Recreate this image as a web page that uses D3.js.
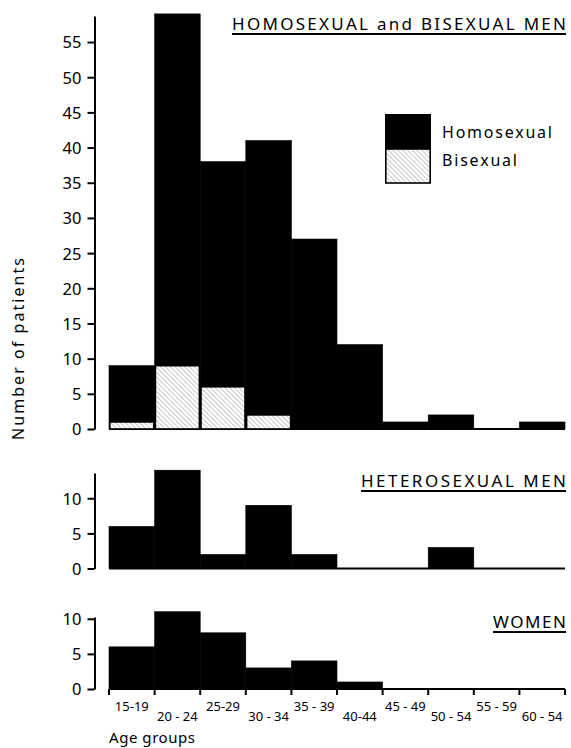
<!DOCTYPE html>
<html>
<head>
<meta charset="utf-8">
<script src="https://cdn.jsdelivr.net/npm/d3@7"></script>
<style>
  body { margin: 0; background: #fff; }
  text { font-family: 'Noto Sans', 'DejaVu Sans', sans-serif; fill: #000; }
</style>
</head>
<body>
<div id="chart"></div>
<script>
// data
const ageGroups = ['15-19', '20-24', '25-29', '30-34', '35-39', '40-44', '45-49', '50-54', '55-59', '60-64'];
const ageLabels = ['15-19', '20 - 24', '25-29', '30 - 34', '35 - 39', '40-44', '45 - 49', '50 - 54', '55 - 59', '60 - 54'];
const homosexual = [8, 50, 32, 39, 27, 12, 1, 2, 0, 1];
const bisexual = [1, 9, 6, 2, 0, 0, 0, 0, 0, 0];
const heterosexual = [6, 14, 2, 9, 2, 0, 0, 3, 0, 0];
const women = [6, 11, 8, 3, 4, 1, 0, 0, 0, 0];
const topTicks = [0, 5, 10, 15, 20, 25, 30, 35, 40, 45, 50, 55];
const smallTicks = [0, 5, 10];

const W = 571, H = 748;
const axisX = 94.5;

const svg = d3.select('#chart').append('svg')
    .attr('width', W)
    .attr('height', H);

// hatch for bisexual (lines running top-left to bottom-right)
const pat = svg.append('defs').append('pattern')
    .attr('id', 'hatch')
    .attr('patternUnits', 'userSpaceOnUse')
    .attr('width', 3.4)
    .attr('height', 3.4)
    .attr('patternTransform', 'rotate(-45)');
pat.append('rect').attr('width', 3.4).attr('height', 3.4).attr('fill', '#fff');
pat.append('line')
    .attr('x1', 0).attr('y1', 0).attr('x2', 0).attr('y2', 3.4)
    .attr('stroke', '#777').attr('stroke-width', 0.8);

const x = d3.scaleBand()
    .domain(ageGroups)
    .range([109, 565])
    .padding(0);

const yTop = d3.scaleLinear().domain([0, 58.7]).range([429, 16]);
const yMid = d3.scaleLinear().domain([0, 13.6]).range([568.5, 473]);
const yBot = d3.scaleLinear().domain([0, 10.25]).range([689, 617]);

function yAxis(scale, ticks) {
    const g = svg.append('g')
        .attr('transform', 'translate(' + axisX + ',0)')
        .call(d3.axisLeft(scale).tickValues(ticks).tickSize(7).tickSizeOuter(0).tickPadding(6));
    g.select('.domain').attr('stroke-width', 2);
    g.selectAll('.tick line').attr('stroke-width', 2);
    g.selectAll('.tick text')
        .style('font-size', '16.5px')
        .attr('dy', '0.36em');
    return g;
}

function baseline(scale) {
    svg.append('line')
        .attr('x1', x.range()[0])
        .attr('x2', x.range()[1])
        .attr('y1', scale(0))
        .attr('y2', scale(0))
        .attr('stroke', '#000')
        .attr('stroke-width', 2);
}

function title(txt, xr, yb, len) {
    svg.append('text')
        .attr('x', xr - len)
        .attr('y', yb)
        .attr('textLength', len)
        .attr('lengthAdjust', 'spacing')
        .style('font-size', '17px')
        .text(txt);
    svg.append('line')
        .attr('x1', xr - len)
        .attr('x2', xr)
        .attr('y1', yb + 4)
        .attr('y2', yb + 4)
        .attr('stroke', '#000')
        .attr('stroke-width', 2);
}

function bars(data, scale) {
    svg.append('g').selectAll('rect')
        .data(data)
        .enter().append('rect')
        .attr('x', (d, i) => x(ageGroups[i]))
        .attr('y', d => scale(d))
        .attr('width', x.bandwidth())
        .attr('height', d => scale(0) - scale(d))
        .attr('fill', '#000')
        .attr('stroke', '#000')
        .attr('stroke-width', 0.6);
}

// ---- top panel: homosexual and bisexual men
const stackData = ageGroups.map((a, i) => ({ age: a, bisexual: bisexual[i], homosexual: homosexual[i] }));
const series = d3.stack().keys(['bisexual', 'homosexual'])(stackData);

baseline(yTop);
bars(series[1].map(d => d[1]), yTop);

svg.append('g').selectAll('rect')
    .data(series[0].filter(d => d[1] > 0))
    .enter().append('rect')
    .attr('x', d => x(d.data.age) + 0.8)
    .attr('y', d => yTop(d[1]))
    .attr('width', x.bandwidth() - 1.6)
    .attr('height', d => yTop(0) - yTop(d[1]))
    .attr('fill', 'url(#hatch)')
    .attr('stroke', '#000')
    .attr('stroke-width', 1.6);

yAxis(yTop, topTicks);
title('HOMOSEXUAL and BISEXUAL MEN', 566, 30, 334);

// legend
const lg = svg.append('g').attr('transform', 'translate(385,114)');
lg.append('rect').attr('width', 46).attr('height', 35).attr('fill', '#000');
lg.append('rect').attr('x', 0.8).attr('y', 35).attr('width', 44.4).attr('height', 34)
    .attr('fill', 'url(#hatch)').attr('stroke', '#000').attr('stroke-width', 1.6);
lg.append('text').attr('x', 57).attr('y', 24).style('font-size', '16px')
    .attr('textLength', 110).attr('lengthAdjust', 'spacing').text('Homosexual');
lg.append('text').attr('x', 57).attr('y', 52).style('font-size', '16px')
    .attr('textLength', 75).attr('lengthAdjust', 'spacing').text('Bisexual');

// ---- middle panel: heterosexual men
baseline(yMid);
bars(heterosexual, yMid);
yAxis(yMid, smallTicks);
title('HETEROSEXUAL MEN', 566, 487, 205);

// ---- bottom panel: women
baseline(yBot);
bars(women, yBot);
yAxis(yBot, smallTicks);
title('WOMEN', 566, 628, 73);

// x axis ticks at bin edges
const edges = ageGroups.map(a => x(a)).concat([x.range()[1]]);
svg.append('g').selectAll('line')
    .data(edges)
    .enter().append('line')
    .attr('x1', d => d).attr('x2', d => d)
    .attr('y1', yBot(0)).attr('y2', yBot(0) + 6)
    .attr('stroke', '#000').attr('stroke-width', 2);

svg.append('g').selectAll('text')
    .data(ageLabels)
    .enter().append('text')
    .attr('x', (d, i) => x(ageGroups[i]) + x.bandwidth() / 2)
    .attr('y', (d, i) => i % 2 === 0 ? 711 : 721)
    .attr('text-anchor', 'middle')
    .style('font-size', '13px')
    .text(d => d);

svg.append('text')
    .attr('x', 109)
    .attr('y', 743)
    .style('font-size', '15px')
    .attr('textLength', 86)
    .attr('lengthAdjust', 'spacing')
    .text('Age groups');

svg.append('text')
    .attr('transform', 'rotate(-90)')
    .attr('x', -349)
    .attr('y', 24)
    .attr('text-anchor', 'middle')
    .style('font-size', '16px')
    .attr('textLength', 182)
    .attr('lengthAdjust', 'spacing')
    .text('Number of patients');
</script>
</body>
</html>
